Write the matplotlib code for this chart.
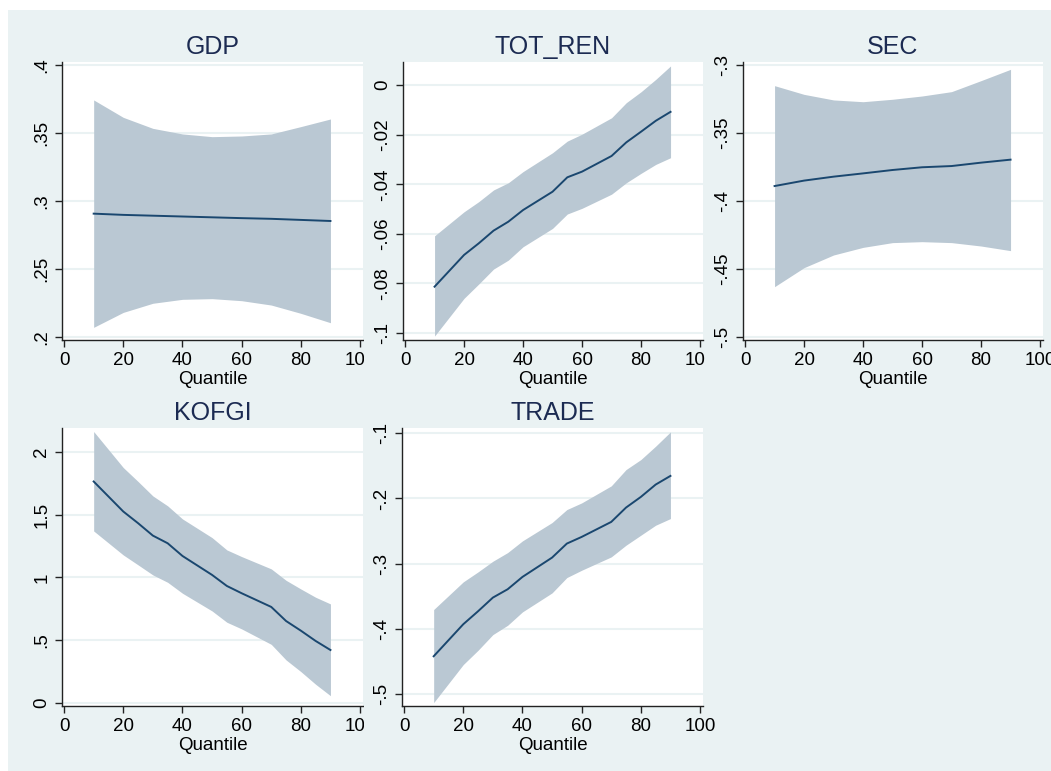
import matplotlib
matplotlib.use("Agg")
import matplotlib.pyplot as plt
from matplotlib.patches import Rectangle
from matplotlib.ticker import FixedLocator, FuncFormatter

plt.rcParams["font.family"] = ["Liberation Sans", "DejaVu Sans"]

# quantile grids
q_fine = [10, 20, 25, 30, 35, 40, 50, 55, 60, 70, 75, 80, 85, 90]
q_dec = [10, 20, 30, 40, 50, 60, 70, 80, 90]

# GDP
gdp_coef = [0.2907, 0.2898, 0.2892, 0.2886, 0.2880, 0.2874, 0.2869, 0.2861, 0.2853]
gdp_hi = [0.3743, 0.3615, 0.3534, 0.3493, 0.3473, 0.3478, 0.3493, 0.3547, 0.3603]
gdp_lo = [0.2071, 0.2181, 0.2248, 0.2277, 0.2282, 0.2267, 0.2235, 0.2174, 0.2105]

# TOT_REN
ren_coef = [-0.0813, -0.0685, -0.0638, -0.0587, -0.0551, -0.0504, -0.0430, -0.0372,
            -0.0349, -0.0286, -0.0231, -0.0188, -0.0144, -0.0108]
ren_hi = [-0.0608, -0.0511, -0.0470, -0.0423, -0.0394, -0.0349, -0.0273, -0.0226,
          -0.0198, -0.0132, -0.0071, -0.0027, 0.0023, 0.0077]
ren_lo = [-0.1012, -0.0860, -0.0802, -0.0742, -0.0706, -0.0652, -0.0578, -0.0520,
          -0.0497, -0.0440, -0.0394, -0.0356, -0.0320, -0.0293]

# SEC
sec_coef = [-0.3890, -0.3850, -0.3821, -0.3797, -0.3772, -0.3752, -0.3743, -0.3718, -0.3696]
sec_hi = [-0.3152, -0.3216, -0.3257, -0.3270, -0.3252, -0.3228, -0.3196, -0.3115, -0.3032]
sec_lo = [-0.4630, -0.4490, -0.4397, -0.4341, -0.4306, -0.4299, -0.4306, -0.4331, -0.4365]

# KOFGI
kof_coef = [1.764, 1.525, 1.432, 1.333, 1.272, 1.171, 1.020, 0.932,
            0.874, 0.765, 0.653, 0.576, 0.494, 0.422]
kof_hi = [2.162, 1.875, 1.764, 1.649, 1.570, 1.466, 1.317, 1.219,
          1.166, 1.068, 0.977, 0.908, 0.842, 0.789]
kof_lo = [1.370, 1.179, 1.100, 1.020, 0.961, 0.874, 0.733, 0.643,
          0.590, 0.467, 0.343, 0.250, 0.149, 0.058]

# TRADE
trd_coef = [-0.4418, -0.3927, -0.3728, -0.3519, -0.3391, -0.3202, -0.2906, -0.2691,
            -0.2589, -0.2359, -0.2139, -0.1976, -0.1787, -0.1654]
trd_hi = [-0.3702, -0.3278, -0.3125, -0.2962, -0.2829, -0.2650, -0.2369, -0.2170,
          -0.2068, -0.1807, -0.1557, -0.1404, -0.1199, -0.0980]
trd_lo = [-0.5128, -0.4545, -0.4326, -0.4086, -0.3943, -0.3738, -0.3447, -0.3212,
          -0.3100, -0.2895, -0.2716, -0.2563, -0.2410, -0.2308]

bg = "#eaf2f3"
band = "#bac8d3"
navy = "#1a476f"
title_col = "#1c2b52"

W, H = 1051, 771
fig = plt.figure(figsize=(W / 100, H / 100), dpi=100, facecolor="white")


def px_rect(x0, y0, x1, y1):
    # pixel box (top-left origin) -> figure fraction [l, b, w, h]
    return [x0 / W, (H - y1) / H, (x1 - x0) / W, (y1 - y0) / H]


def stata_fmt(v, pos):
    s = f"{round(v, 6):g}"
    if s.startswith("0."):
        s = s[1:]
    elif s.startswith("-0."):
        s = "-" + s[2:]
    return s


def add_bg(x0, y0, x1, y1, z):
    l, b, w, h = px_rect(x0, y0, x1, y1)
    fig.patches.append(Rectangle((l, b), w, h, transform=fig.transFigure,
                                 facecolor=bg, edgecolor="none", zorder=z))


add_bg(8, 10, W, H, -1)

panels = [
    ("GDP", q_dec, gdp_coef, gdp_lo, gdp_hi, (62, 62, 363, 340),
     (0.1978, 0.4022), [0.2, 0.25, 0.3, 0.35, 0.4], None),
    ("TOT_REN", q_fine, ren_coef, ren_lo, ren_hi, (403, 62, 703, 340),
     (-0.1028, 0.0093), [-0.1, -0.08, -0.06, -0.04, -0.02, 0], (364, 10, 705, 390)),
    ("SEC", q_dec, sec_coef, sec_lo, sec_hi, (743, 62, 1043, 340),
     (-0.5022, -0.2978), [-0.5, -0.45, -0.4, -0.35, -0.3], (705, 10, W, 390)),
    ("KOFGI", q_fine, kof_coef, kof_lo, kof_hi, (62, 428, 363, 706),
     (-0.024, 2.19), [0, 0.5, 1, 1.5, 2], None),
    ("TRADE", q_fine, trd_coef, trd_lo, trd_hi, (402, 428, 703, 706),
     (-0.518, -0.092), [-0.5, -0.4, -0.3, -0.2, -0.1], (364, 390, 705, H)),
]

for i, (name, q, coef, lo, hi, box, ylim, yt, cover) in enumerate(panels):
    z = 2 * i + 2
    if cover is not None:
        add_bg(*cover, z - 1)
    ax = fig.add_axes(px_rect(*box), zorder=z)
    ax.set_facecolor("white")
    ax.fill_between(q, lo, hi, color=band, linewidth=0, zorder=2)
    ax.plot(q, coef, color=navy, linewidth=1.4, zorder=3)
    ax.set_xlim(-0.7, 101)
    ax.set_ylim(*ylim)
    ax.xaxis.set_major_locator(FixedLocator([0, 20, 40, 60, 80, 100]))
    ax.yaxis.set_major_locator(FixedLocator(yt))
    ax.yaxis.set_major_formatter(FuncFormatter(stata_fmt))
    ax.yaxis.grid(True, color=bg, linewidth=1.5)
    ax.set_axisbelow(True)
    for s in ("top", "right"):
        ax.spines[s].set_visible(False)
    for s in ("left", "bottom"):
        ax.spines[s].set_color("#222222")
        ax.spines[s].set_linewidth(1.0)
    ax.tick_params(direction="out", length=5, width=1, color="#222222",
                   labelsize=13.5, pad=3.5)
    for lab in ax.get_yticklabels():
        lab.set_rotation(90)
        lab.set_va("center")
    ax.set_title(name, fontsize=18, color=title_col, pad=6)
    ax.set_xlabel("Quantile", fontsize=13.5, labelpad=1.5)

fig.savefig("out.png", dpi=100, facecolor=fig.get_facecolor())
